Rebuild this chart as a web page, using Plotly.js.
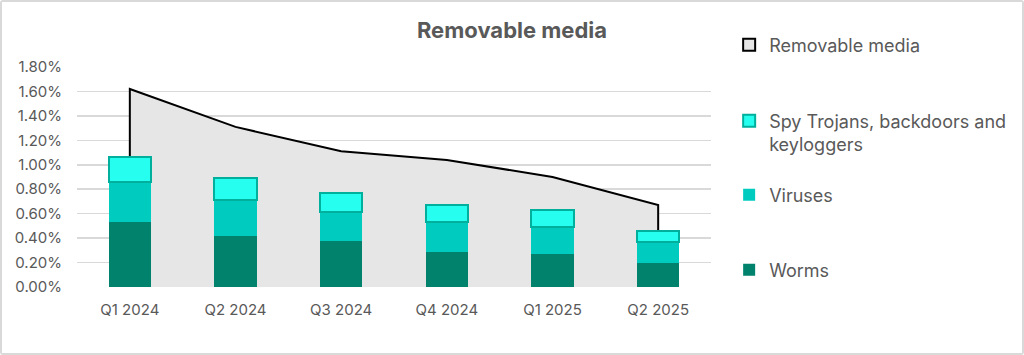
<!DOCTYPE html>
<html><head><meta charset="utf-8">
<script src="https://cdn.plot.ly/plotly-3.0.1.min.js"></script>
<style>
html,body{margin:0;padding:0;background:#fff;}
#wrap{position:absolute;left:0;top:0;width:1020px;height:351px;border:2px solid #d9d9d9;border-radius:3px;}
#chart{width:1020px;height:351px;}
</style></head>
<body><div id="wrap"><div id="chart"></div></div>
<script>
const categories = ['Q1 2024','Q2 2024','Q3 2024','Q4 2024','Q1 2025','Q2 2025'];
const removableMedia = [0.0162,0.0131,0.0111,0.0104,0.0090,0.0067];
const worms = [0.0053,0.0042,0.0038,0.0029,0.0027,0.0020];
const viruses = [0.0033,0.0029,0.0023,0.0024,0.0022,0.0017];
const spyTrojans = [0.0020,0.0018,0.0016,0.0014,0.0014,0.0009];
const tickVals = [0,0.002,0.004,0.006,0.008,0.010,0.012,0.014,0.016,0.018];

const fontFam = 'Inter, Roboto, Arial, sans-serif';
const grey = '#595959';

const areaX = [categories[0]].concat(categories, [categories[categories.length-1]]);
const areaY = [0].concat(removableMedia, [0]);

const data = [
  {type:'scatter', mode:'lines', name:'Removable media', x:areaX, y:areaY,
   fill:'tozeroy', fillcolor:'#e6e6e6', line:{color:'#000000', width:2},
   showlegend:false, hoverinfo:'skip', xaxis:'x', yaxis:'y'},
  {type:'bar', name:'Removable media', x:categories, y:categories.map(() => null),
   marker:{color:'#e6e6e6', line:{color:'#000000', width:2}}, legend:'legend', xaxis:'x', yaxis:'y2'},
  {type:'bar', name:'Worms', x:categories, y:worms,
   marker:{color:'#00826d', line:{width:0}}, legend:'legend4', xaxis:'x', yaxis:'y2'},
  {type:'bar', name:'Viruses', x:categories, y:viruses,
   marker:{color:'#00cbbf', line:{width:0}}, legend:'legend3', xaxis:'x', yaxis:'y2'},
  {type:'bar', name:'Spy Trojans, backdoors and<br>keyloggers', x:categories, y:spyTrojans,
   marker:{color:'#26fff0', line:{color:'#00b09c', width:2}}, legend:'legend2', xaxis:'x', yaxis:'y2'}
];

const legFont = {size:18, color:grey, family:fontFam};
function leg(y){ return {x:1.027, xanchor:'left', y:y, yanchor:'middle', valign:'top', font:legFont, bgcolor:'rgba(0,0,0,0)'}; }

const layout = {
  width:1020, height:351,
  margin:{l:75, r:310, t:65, b:66},
  paper_bgcolor:'#ffffff', plot_bgcolor:'#ffffff',
  font:{family:fontFam, color:grey, size:15},
  barmode:'stack', bargap:0.6,
  title:{text:'<b>Removable media</b>', font:{family:fontFam, size:22, color:grey},
    xref:'container', x:0.5, xanchor:'center', yref:'container', y:0.92, yanchor:'middle'},
  xaxis:{type:'category', showgrid:false, zeroline:false, showline:false,
    tickfont:{size:15, color:grey}, ticks:'', ticklabelstandoff:12},
  yaxis:{range:[0,0.018], tickvals:tickVals, tickformat:'.2%',
    showgrid:true, gridcolor:'#d9d9d9', gridwidth:1.5, zeroline:false, showline:false,
    tickfont:{size:15, color:grey}, ticks:'', ticklabelstandoff:14},
  yaxis2:{range:[0,0.018], overlaying:'y', side:'left', showgrid:false, zeroline:false,
    showline:false, showticklabels:false, ticks:''},
  legend:leg(1.1),
  legend2:leg(0.702),
  legend3:leg(0.418),
  legend4:leg(0.077),
  showlegend:true
};

Plotly.newPlot('chart', data, layout, {displayModeBar:false, staticPlot:true});
</script>
</body></html>
